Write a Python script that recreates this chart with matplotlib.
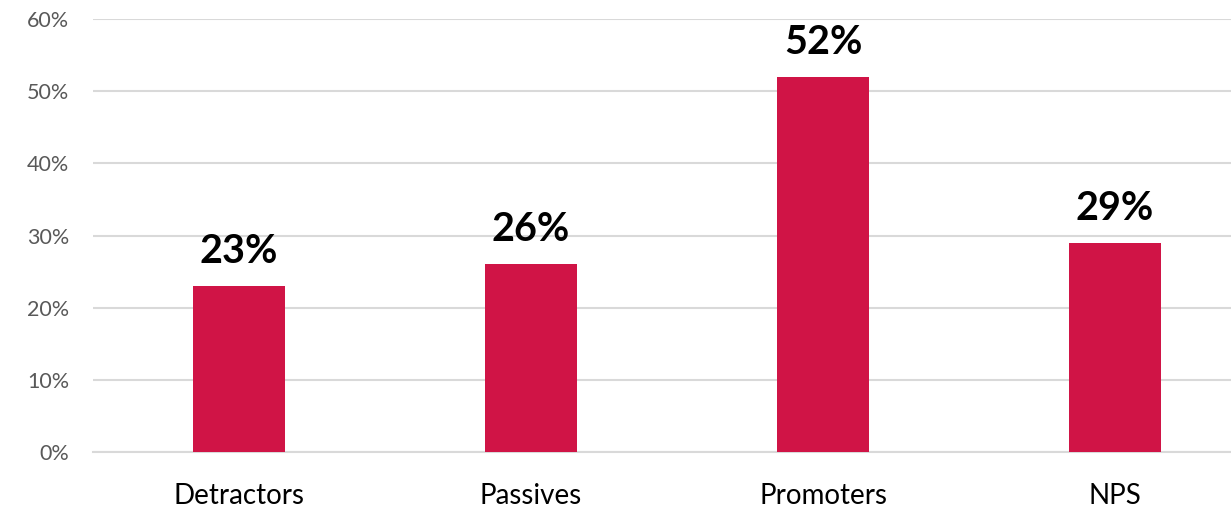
import matplotlib.pyplot as plt
from matplotlib.ticker import PercentFormatter

categories = ["Detractors", "Passives", "Promoters", "NPS"]
values = [23, 26, 52, 29]
yticks = [0, 10, 20, 30, 40, 50, 60]

plt.rcParams['font.family'] = ['Lato', 'DejaVu Sans']

fig = plt.figure(figsize=(12.31, 5.11), dpi=100)
# axes placed in pixels: left 93, right 1231, y=0 at 452, 60% at 19
ax = fig.add_axes([93 / 1231, (511 - 452) / 511, (1231 - 93) / 1231, (452 - 19) / 511])

x = range(len(categories))
bars = ax.bar(x, values, width=0.315, color="#D01446", zorder=3)

for xi, v in zip(x, values):
    ax.text(xi, v + 2.2, f"{v}%", ha="center", va="bottom",
            fontsize=28.5, fontweight="bold", color="black")

ax.set_ylim(0, 60)
ax.set_xlim(-0.5, (1231 - 93) / 292 - 0.5)
ax.set_yticks(yticks)
ax.yaxis.set_major_formatter(PercentFormatter(decimals=0))
ax.set_xticks(list(x))
ax.set_xticklabels(categories, fontsize=20, color="black")
ax.tick_params(axis="y", labelsize=15.5, labelcolor="#595959", length=0, pad=17)
ax.tick_params(axis="x", length=0, pad=22)

ax.grid(axis="y", color="#d9d9d9", linewidth=1.5, zorder=0)
for side in ["top", "right", "left"]:
    ax.spines[side].set_visible(False)
ax.spines["bottom"].set_color("#d9d9d9")
ax.spines["bottom"].set_linewidth(1.5)

fig.savefig("out.png", dpi=100)
